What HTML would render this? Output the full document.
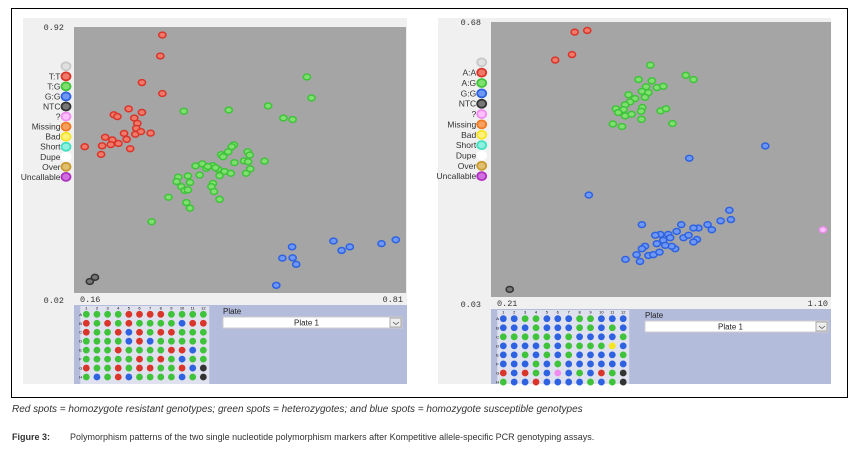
<!DOCTYPE html>
<html><head><meta charset="utf-8">
<style>
body{margin:0;background:#fff;width:852px;height:465px;overflow:hidden;font-family:"Liberation Sans",sans-serif;}
svg{position:absolute;left:0;top:0}
</style></head>
<body>
<svg id="fig" width="852" height="465" xmlns="http://www.w3.org/2000/svg"></svg>
<script>
// ---- Left chart data (x = allele 1 signal, y = allele 2 signal) ----
const leftXRange = [0.16, 0.81];
const leftYRange = [0.02, 0.92];
const leftRedX = [0.333,0.329,0.293,0.333,0.267,0.293,0.238,0.245,0.278,0.284,0.282,0.280,0.291,0.258,0.310,0.221,0.235,0.247,0.263,0.215,0.232,0.181,0.270,0.213];
const leftRedY = [0.893,0.822,0.732,0.695,0.643,0.631,0.623,0.617,0.612,0.594,0.577,0.557,0.566,0.560,0.561,0.547,0.538,0.526,0.540,0.518,0.522,0.515,0.508,0.489];
const leftGreenX = [0.616,0.625,0.375,0.463,0.540,0.570,0.588,0.473,0.469,0.462,0.448,0.452,0.500,0.504,0.533,0.474,0.493,0.501,0.497,0.505,0.398,0.411,0.419,0.432,0.442,0.455,0.467,0.445,0.406,0.364,0.361,0.383,0.387,0.370,0.377,0.383,0.432,0.429,0.434,0.345,0.445,0.380,0.387,0.312,0.422,0.437];
const leftGreenY = [0.751,0.680,0.635,0.639,0.653,0.612,0.607,0.521,0.515,0.498,0.488,0.481,0.498,0.487,0.466,0.461,0.467,0.464,0.425,0.440,0.450,0.457,0.442,0.451,0.439,0.431,0.425,0.417,0.419,0.412,0.397,0.416,0.394,0.380,0.367,0.369,0.391,0.380,0.363,0.344,0.337,0.326,0.307,0.261,0.448,0.444];
const leftBlueX = [0.668,0.684,0.700,0.762,0.790,0.587,0.568,0.588,0.595,0.556];
const leftBlueY = [0.196,0.164,0.176,0.187,0.200,0.176,0.138,0.139,0.117,0.046];
const leftNtcX = [0.191,0.201];
const leftNtcY = [0.059,0.073];
const leftLegend = ["","T:T","T:G","G:G","NTC","?","Missing","Bad","Short","Dupe","Over","Uncallable"];
const leftPlate = ["ggggrrrrgggg","rgrgrggggbrr","rggrbrgrrggg","ggggbrbggggg","gggrggggrrbg","gggggrgrgbgg","rggrgrrggrbk","gbgrbggggbgk"];
// ---- Right chart data ----
const rightXRange = [0.21, 1.10];
const rightYRange = [0.03, 0.68];
const rightRedX = [0.429,0.462,0.422,0.378];
const rightRedY = [0.656,0.660,0.603,0.590];
const rightGreenX = [0.627,0.596,0.631,0.720,0.740,0.616,0.644,0.661,0.605,0.622,0.613,0.570,0.587,0.574,0.561,0.557,0.537,0.543,0.561,0.578,0.606,0.603,0.604,0.654,0.668,0.529,0.553,0.685];
const rightGreenY = [0.578,0.544,0.541,0.554,0.544,0.527,0.525,0.528,0.516,0.513,0.502,0.508,0.499,0.491,0.484,0.473,0.475,0.466,0.458,0.462,0.478,0.469,0.450,0.470,0.475,0.439,0.433,0.440];
const rightBlueX = [0.928,0.729,0.466,0.834,0.838,0.811,0.777,0.788,0.753,0.740,0.605,0.708,0.696,0.674,0.653,0.640,0.661,0.679,0.714,0.727,0.749,0.740,0.692,0.683,0.666,0.644,0.613,0.605,0.591,0.622,0.635,0.651,0.562,0.600];
const rightBlueY = [0.387,0.358,0.271,0.235,0.213,0.210,0.201,0.189,0.193,0.193,0.201,0.201,0.185,0.178,0.178,0.176,0.164,0.170,0.170,0.176,0.166,0.160,0.144,0.150,0.152,0.156,0.150,0.144,0.130,0.128,0.130,0.136,0.119,0.114];
const rightPinkX = [1.079];
const rightPinkY = [0.189];
const rightNtcX = [0.259];
const rightNtcY = [0.048];
const rightLegend = ["","A:A","A:G","G:G","NTC","?","Missing","Bad","Short","Dupe","Over","Uncallable"];
const rightPlate = ["bbggbbbggbbb","bbbgbbbggbgb","gggggbgbbbbg","bbbbgbggggyb","bbgbgbgbbbbg","bbbgbgbbbbbb","rbrgbpbgbrgk","gbbrbbbbgbgk"];

const COL = {r:["#d9352a","#8e1d14","#f07a6a"],g:["#3fc33a","#1f7f1c","#7fe070"],b:["#2e62e0","#173b9a","#6f98f5"],k:["#333","#000","#777"],p:["#f08cf0","#b060b0","#ffc0ff"],y:["#f5e61e","#b0a000","#fff080"],o:["#f07a20","#a04a10","#f8a060"],c:["#40e0c0","#20a080","#90f0e0"],w:["#fff","#ddd","#fff"],n:["#c99a2e","#8a6410","#e0c070"],u:["#b030c0","#701080","#d070e0"],e:["#c8c8c8","#909090","#e0e0e0"]};
const legendCols = ["e","r","g","b","k","p","o","y","c","w","n","u"];
const NS="http://www.w3.org/2000/svg";
const svg=document.getElementById('fig');
function mk(tag,attrs,parent,text){const e=document.createElementNS(NS,tag);for(const k in attrs)e.setAttribute(k,attrs[k]);if(text!==undefined)e.textContent=text;(parent||svg).appendChild(e);return e;}

const frame=mk('rect',{x:11.5,y:8.5,width:836,height:389,fill:'none',stroke:'#000','stroke-width':1});



function panel(cfg){
  const g=mk('g',{});
  
  
  const bg=mk('rect',{x:cfg.bx,y:18,width:cfg.bw,height:366,fill:'#f0f0f0'},g);
  
  
  const P=cfg.plot;
  const pa=mk('rect',{x:P.x,y:P.y,width:P.w,height:P.h,fill:'#a5a5a5'},g);
  
  
  const sx=v=>P.x+(v-cfg.xr[0])/(cfg.xr[1]-cfg.xr[0])*P.w;
  const sy=v=>P.y+P.h-(v-cfg.yr[0])/(cfg.yr[1]-cfg.yr[0])*P.h;
  const lab=(x,y,t,anchor,name)=>{const e=mk('text',{x:x,y:y,'font-size':8.5,fill:'#333','text-anchor':anchor||'start','font-family':'Liberation Mono, monospace'},g,t);return e;};
  lab(P.x-10,P.y+3,cfg.yr[1].toFixed(2),'end','y-axis-max-label');
  lab(P.x-10,P.y+P.h+10,cfg.yr[0].toFixed(2),'end','y-axis-min-label');
  lab(P.x+6,P.y+P.h+9,cfg.xr[0].toFixed(2),'start','x-axis-min-label');
  lab(P.x+P.w-3,P.y+P.h+9,cfg.xr[1].toFixed(2),'end','x-axis-max-label');
  cfg.legend.forEach((t,i)=>{
    const c=COL[legendCols[i]];
    const y=cfg.ly+i*cfg.lsp;
    const d=mk('ellipse',{cx:cfg.lx,cy:y,rx:4.5,ry:4,fill:c[2],stroke:c[0],'stroke-width':1.8},g);
    
    
    if(t){const e=mk('text',{x:cfg.lx-5.5,y:y+3,'font-size':8.5,fill:'#333','text-anchor':'end'},g,t);
      
      }
  });
  cfg.series.forEach(s=>{
    const c=COL[s.c];
    s.x.forEach((v,i)=>{
      const p=mk('ellipse',{cx:sx(v),cy:sy(s.y[i]),rx:3.6,ry:2.9,fill:c[2],stroke:c[0],'stroke-width':1.5},g);
      
      
    });
  });
  const L=cfg.low;
  const lp=mk('rect',{x:P.x,y:L.y,width:P.w+(cfg.extra||0),height:384-L.y,fill:'#b4bcdc'},g);
  
  
  const gb=mk('rect',{x:L.gx-6,y:L.y+1,width:L.gsp*11+12,height:384-L.y-1,fill:'#dfe1ee'},g);
  
  
  for(let c=0;c<12;c++){const e=mk('text',{x:L.gx+c*L.gsp,y:L.y+4.5,'font-size':4,fill:'#000','text-anchor':'middle'},g,String(c+1));}
  cfg.plate.forEach((row,r)=>{
    const e=mk('text',{x:L.gx-7,y:L.gy+r*L.rsp+1.5,'font-size':4,fill:'#000'},g,'ABCDEFGH'[r]);
    
    
    row.split('').forEach((ch,c)=>{
      const d=mk('circle',{cx:L.gx+c*L.gsp,cy:L.gy+r*L.rsp,r:3.4,fill:COL[ch][0]},g);
      
      
    });
  });
  const pl=mk('text',{x:L.px,y:L.py,'font-size':8,fill:'#222'},g,'Plate');
  
  
  const dd=mk('rect',{x:L.px,y:L.py+3,width:L.pw,height:11,fill:'#fff',stroke:'#ccc'},g);
  
  
  const dt=mk('text',{x:L.px+L.pw/2-6,y:L.py+11.5,'font-size':8,fill:'#222','text-anchor':'middle'},g,'Plate 1');
  
  
  const db=mk('rect',{x:L.px+L.pw-12,y:L.py+4,width:11,height:9,fill:'#eee',stroke:'#aaa'},g);
  
  
  mk('path',{d:`M${L.px+L.pw-9} ${L.py+8} l3 2.5 l3 -2.5`,fill:'none',stroke:'#555','stroke-width':0.8},g);
}

panel({name:'left-chart',bx:23,bw:384,plot:{x:74,y:27,w:332,h:266},xr:leftXRange,yr:leftYRange,
  legend:leftLegend,lx:66,ly:66.3,lsp:10.05,
  series:[{n:'tt-point',c:'r',x:leftRedX,y:leftRedY},{n:'tg-point',c:'g',x:leftGreenX,y:leftGreenY},{n:'gg-point',c:'b',x:leftBlueX,y:leftBlueY},{n:'ntc-point',c:'k',x:leftNtcX,y:leftNtcY}],
  plate:leftPlate,extra:1,
  low:{y:305,gx:86.3,gsp:10.64,gy:314.3,rsp:8.96,px:223,py:314,pw:179}});
panel({name:'right-chart',bx:438,bw:393,plot:{x:491,y:22,w:340,h:275},xr:rightXRange,yr:rightYRange,
  legend:rightLegend,lx:481.7,ly:62.3,lsp:10.35,
  series:[{n:'aa-point',c:'r',x:rightRedX,y:rightRedY},{n:'ag-point',c:'g',x:rightGreenX,y:rightGreenY},{n:'gg-point',c:'b',x:rightBlueX,y:rightBlueY},{n:'unknown-point',c:'p',x:rightPinkX,y:rightPinkY},{n:'ntc-point',c:'k',x:rightNtcX,y:rightNtcY}],
  plate:rightPlate,
  low:{y:309,gx:503.3,gsp:10.9,gy:318.7,rsp:9.05,px:645,py:318,pw:183}});

const cap=mk('text',{x:12,y:412,'font-size':10,'font-style':'italic',fill:'#333'},svg,'Red spots = homozygote resistant genotypes; green spots = heterozygotes; and blue spots = homozygote susceptible genotypes');


const fl=mk('text',{x:12,y:440,'font-size':9,'font-weight':'bold',fill:'#333'},svg,'Figure 3:');


const fc=mk('text',{x:70,y:440,'font-size':9,fill:'#333'},svg,'Polymorphism patterns of the two single nucleotide polymorphism markers after Kompetitive allele-specific PCR genotyping assays.');


</script>
</body></html>
